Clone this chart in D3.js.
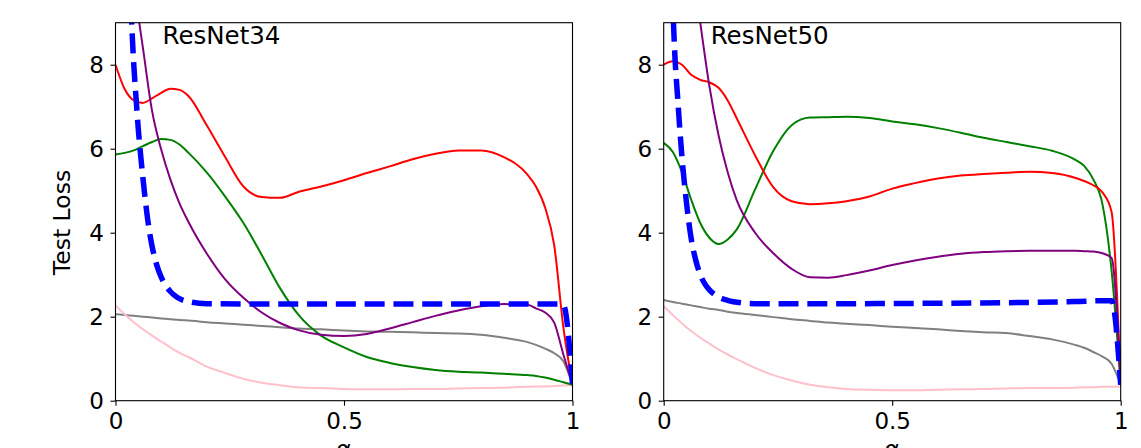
<!DOCTYPE html>
<html>
<head>
<meta charset="utf-8">
<script src="https://cdn.jsdelivr.net/npm/d3@7"></script>
<style>
  body { margin: 0; background: #fff; }
  svg text { font-family: "DejaVu Sans", sans-serif; fill: #000; }
</style>
</head>
<body>
<div class="plotWin"></div>
<script>

// shared alpha grid for the solid curves
var alpha = [0, 0.02, 0.04, 0.06, 0.08, 0.10, 0.12, 0.14, 0.16, 0.20, 0.24, 0.28, 0.32, 0.36, 0.40,
	0.45, 0.50, 0.55, 0.60, 0.65, 0.70, 0.75, 0.80, 0.85, 0.90, 0.92, 0.94, 0.96, 0.98, 1];

// ResNet34
var red34    = [8.0, 7.42, 7.15, 7.09, 7.2, 7.33, 7.43, 7.40, 7.25, 6.55, 5.8, 5.1, 4.85, 4.83, 4.97,
	5.1, 5.25, 5.42, 5.58, 5.75, 5.88, 5.96, 5.96, 5.8, 5.4, 5.1, 4.6, 3.7, 1.75, 0.38];
var green34  = [5.86, 5.9, 5.96, 6.06, 6.16, 6.23, 6.21, 6.1, 5.9, 5.43, 4.86, 4.23, 3.47, 2.68, 2.05,
	1.55, 1.27, 1.04, 0.9, 0.8, 0.73, 0.69, 0.67, 0.64, 0.61, 0.59, 0.55, 0.5, 0.44, 0.38];
var purple34 = [13, 11.4, 9.9, 8.4, 6.9, 5.98, 5.27, 4.7, 4.25, 3.5, 2.89, 2.45, 2.1, 1.85, 1.68,
	1.57, 1.54, 1.59, 1.72, 1.87, 2.02, 2.15, 2.25, 2.3, 2.29, 2.2, 2.1, 1.86, 1.1, 0.38];
var gray34   = [2.06, 2.04, 2.02, 2.0, 1.98, 1.96, 1.94, 1.92, 1.91, 1.87, 1.84, 1.81, 1.78, 1.75, 1.72,
	1.7, 1.67, 1.65, 1.64, 1.63, 1.61, 1.6, 1.57, 1.5, 1.4, 1.33, 1.24, 1.13, 0.94, 0.38];
var pink34   = [2.27, 2.06, 1.87, 1.7, 1.55, 1.41, 1.27, 1.14, 1.04, 0.81, 0.66, 0.52, 0.43, 0.37, 0.32,
	0.3, 0.28, 0.27, 0.27, 0.28, 0.28, 0.29, 0.3, 0.31, 0.33, 0.34, 0.34, 0.35, 0.36, 0.37];
var alphaBlue34 = [0, 0.02, 0.03, 0.035, 0.04, 0.045, 0.05, 0.055, 0.06, 0.065, 0.07, 0.08, 0.09,
	0.10, 0.11, 0.12, 0.13, 0.14, 0.16, 0.20, 0.40, 0.60, 0.80, 0.97, 0.98, 1];
var blue34   = [30, 14, 10.6, 9.1, 8.0, 7.2, 6.45, 5.85, 5.3, 4.8, 4.35, 3.68, 3.24,
	2.94, 2.74, 2.6, 2.5, 2.43, 2.36, 2.31, 2.3, 2.3, 2.3, 2.3, 2.28, 0.4];

// ResNet50
var red50    = [8.0, 8.08, 8.0, 7.76, 7.64, 7.58, 7.45, 7.15, 6.72, 5.84, 5.08, 4.75, 4.68, 4.7, 4.75,
	4.86, 5.05, 5.18, 5.29, 5.36, 5.40, 5.43, 5.45, 5.42, 5.31, 5.23, 5.13, 4.96, 4.5, 0.38];
var green50  = [6.14, 5.92, 5.44, 4.79, 4.23, 3.88, 3.73, 3.84, 4.08, 5.03, 5.95, 6.56, 6.74, 6.75, 6.76,
	6.73, 6.65, 6.58, 6.49, 6.38, 6.26, 6.16, 6.06, 5.95, 5.74, 5.59, 5.27, 4.68, 3.1, 0.38];
var purple50 = [17, 14.6, 12.5, 10.6, 9.0, 7.49, 6.32, 5.44, 4.77, 4.0, 3.51, 3.14, 2.94, 2.93, 2.99,
	3.1, 3.23, 3.34, 3.43, 3.5, 3.54, 3.56, 3.57, 3.57, 3.57, 3.56, 3.55, 3.51, 3.4, 0.38];
var gray50   = [2.40, 2.35, 2.31, 2.27, 2.23, 2.19, 2.16, 2.12, 2.09, 2.04, 1.99, 1.94, 1.9, 1.86, 1.83,
	1.8, 1.76, 1.73, 1.7, 1.66, 1.63, 1.61, 1.54, 1.46, 1.33, 1.26, 1.16, 1.05, 0.88, 0.38];
var pink50   = [2.25, 2.04, 1.84, 1.66, 1.50, 1.36, 1.22, 1.10, 0.99, 0.78, 0.61, 0.48, 0.38, 0.32, 0.28,
	0.26, 0.25, 0.25, 0.26, 0.27, 0.28, 0.29, 0.3, 0.3, 0.31, 0.32, 0.32, 0.33, 0.33, 0.34];
var alphaBlue50 = [0, 0.01, 0.015, 0.02, 0.025, 0.03, 0.035, 0.04, 0.05, 0.06, 0.07, 0.08, 0.09,
	0.10, 0.12, 0.14, 0.17, 0.20, 0.40, 0.60, 0.80, 0.90, 0.96, 0.98, 1];
var blue50   = [20, 13, 11, 9.4, 8.1, 7.3, 6.5, 5.8, 4.7, 3.87, 3.35, 3.0, 2.78,
	2.64, 2.47, 2.39, 2.33, 2.31, 2.31, 2.32, 2.34, 2.36, 2.38, 2.38, 0.38];

var titles = ["ResNet34", "ResNet50"];
var xTicks = [0, 0.5, 1];
var yTicks = [0, 2, 4, 6, 8];

var SVG_WIDTH = 1141,
	SVG_HEIGHT = 448,
	PLOT_W = 457,
	TOP = 22.7,
	BOTTOM = 400.7,
	PANEL_LEFT = [115.5, 663.7];

var panels = [
	{ title: titles[0], left: PANEL_LEFT[0], series: [
		{ x: alpha, y: gray34, color: "#808080" },
		{ x: alpha, y: pink34, color: "#ffc0cb" },
		{ x: alpha, y: green34, color: "#008000" },
		{ x: alpha, y: red34, color: "#ff0000" },
		{ x: alpha, y: purple34, color: "#800080" },
		{ x: alphaBlue34, y: blue34, color: "#0000ff", dashed: true }
	]},
	{ title: titles[1], left: PANEL_LEFT[1], series: [
		{ x: alpha, y: gray50, color: "#808080" },
		{ x: alpha, y: pink50, color: "#ffc0cb" },
		{ x: alpha, y: green50, color: "#008000" },
		{ x: alpha, y: red50, color: "#ff0000" },
		{ x: alpha, y: purple50, color: "#800080" },
		{ x: alphaBlue50, y: blue50, color: "#0000ff", dashed: true }
	]}
];

var svg = d3.select(".plotWin")
	.append("svg")
		.attr("width", SVG_WIDTH)
		.attr("height", SVG_HEIGHT)
		.style("display", "block");

svg.append("rect")
	.attr("width", SVG_WIDTH)
	.attr("height", SVG_HEIGHT)
	.attr("fill", "#fff");

var y = d3.scaleLinear().domain([0, 9]).range([BOTTOM, TOP]);

panels.forEach(function(p, pi) {
	var x = d3.scaleLinear().domain([0, 1]).range([p.left, p.left + PLOT_W]);
	var g = svg.append("g").attr("class", "panel");

	g.append("clipPath")
		.attr("id", "clip" + pi)
		.append("rect")
			.attr("x", p.left)
			.attr("y", TOP)
			.attr("width", PLOT_W)
			.attr("height", BOTTOM - TOP);

	var line = d3.line()
		.x(function(d) { return x(d[0]); })
		.y(function(d) { return y(d[1]); })
		.curve(d3.curveMonotoneX);

	g.append("g")
		.attr("clip-path", "url(#clip" + pi + ")")
		.selectAll("path")
		.data(p.series)
		.enter()
		.append("path")
			.attr("d", function(s) {
				return line(s.x.map(function(v, i) { return [v, s.y[i]]; }));
			})
			.attr("fill", "none")
			.attr("stroke", function(s) { return s.color; })
			.attr("stroke-width", function(s) { return s.dashed ? 5.5 : 2; })
			.attr("stroke-dasharray", function(s) { return s.dashed ? "20,8.8" : null; })
			.attr("stroke-linejoin", "round");

	// frame
	g.append("rect")
		.attr("x", p.left)
		.attr("y", TOP)
		.attr("width", PLOT_W)
		.attr("height", BOTTOM - TOP)
		.attr("fill", "none")
		.attr("stroke", "#000")
		.attr("stroke-width", 1.1);

	var xAxis = g.append("g")
		.attr("transform", "translate(0," + BOTTOM + ")")
		.call(d3.axisBottom(x).tickValues(xTicks).tickSizeInner(5).tickSizeOuter(0).tickPadding(7)
			.tickFormat(function(d) { return String(d); }));
	var yAxis = g.append("g")
		.attr("transform", "translate(" + p.left + ",0)")
		.call(d3.axisLeft(y).tickValues(yTicks).tickSizeInner(5).tickSizeOuter(0).tickPadding(6.5)
			.tickFormat(function(d) { return String(d); }));

	[xAxis, yAxis].forEach(function(ax) {
		ax.select(".domain").remove();
		ax.selectAll("line").attr("stroke", "#000").attr("stroke-width", 1.1);
		ax.selectAll("text")
			.attr("font-family", "DejaVu Sans, sans-serif")
			.attr("font-size", 23)
			.attr("fill", "#000");
	});

	g.append("text")
		.attr("x", p.left + 47)
		.attr("y", 44)
		.attr("font-size", 24.5)
		.text(p.title);

	g.append("text")
		.attr("x", p.left + PLOT_W / 2)
		.attr("y", 457)
		.attr("text-anchor", "middle")
		.attr("font-size", 23.5)
		.text("\u03b1");
});

svg.append("text")
	.attr("transform", "translate(70,222.5) rotate(-90)")
	.attr("text-anchor", "middle")
	.attr("font-size", 23.5)
	.text("Test Loss");

</script>
</body>
</html>
